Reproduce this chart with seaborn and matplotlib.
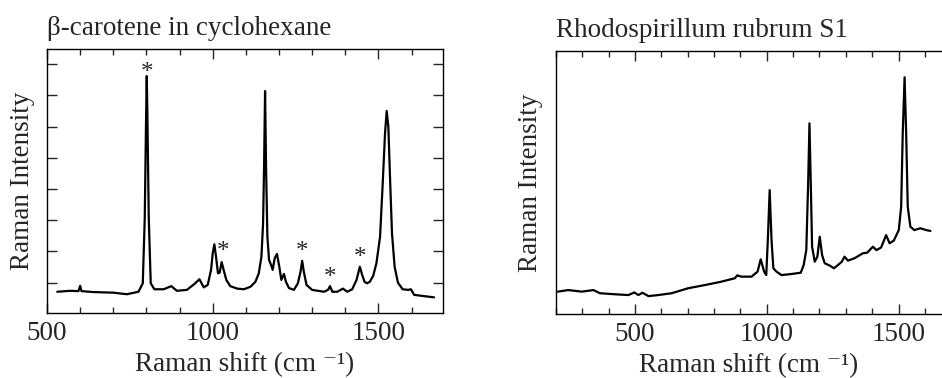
import matplotlib
matplotlib.use("Agg")
import matplotlib.pyplot as plt
import seaborn as sns
from matplotlib.ticker import MultipleLocator

# beta-carotene in cyclohexane (y in tick units)
bc_shift = [531, 570, 595, 600, 604, 640, 701, 741, 776, 789, 795, 799, 801, 803, 807, 813,
            824, 852, 875, 892, 922, 945, 960, 973, 985, 995, 1000, 1005, 1010, 1016, 1021,
            1027, 1033, 1041, 1053, 1074, 1094, 1114, 1129, 1139, 1147, 1152, 1155, 1158,
            1161, 1165, 1170, 1176, 1181, 1187, 1194, 1201, 1207, 1215, 1221, 1230, 1245,
            1257, 1265, 1270, 1275, 1283, 1300, 1336, 1348, 1354, 1361, 1376, 1393, 1406,
            1421, 1434, 1444, 1451, 1458, 1466, 1474, 1484, 1494, 1505, 1513, 1520, 1525,
            1530, 1535, 1541, 1549, 1559, 1573, 1590, 1598, 1608, 1638, 1668]
bc_int = [-0.29, -0.26, -0.27, -0.10, -0.27, -0.30, -0.32, -0.37, -0.29, -0.02, 2.1, 5.3, 6.62,
          5.3, 2.1, -0.02, -0.21, -0.21, -0.11, -0.26, -0.23, -0.04, 0.11, -0.15, -0.07, 0.41,
          0.94, 1.23, 0.83, 0.30, 0.32, 0.66, 0.41, 0.09, -0.11, -0.19, -0.21, -0.13, 0.03,
          0.30, 0.83, 1.9, 3.71, 6.14, 3.71, 1.47, 0.73, 0.57, 0.41, 0.78, 0.92, 0.51, 0.09,
          0.28, 0.03, -0.17, -0.23, -0.02, 0.35, 0.70, 0.35, -0.07, -0.23, -0.29, -0.23,
          -0.11, -0.29, -0.29, -0.19, -0.29, -0.21, 0.09, 0.51, 0.25, 0.03, -0.02, 0.03, 0.21,
          0.62, 1.47, 3.18, 4.78, 5.50, 5.0, 3.39, 1.58, 0.51, 0.0, -0.21, -0.23, -0.21,
          -0.39, -0.43, -0.47]

# solvent bands marked with an asterisk
star_shift = [801, 1031, 1269, 1354, 1444]
star_int = [6.72, 0.99, 0.99, 0.14, 0.78]

# Rhodospirillum rubrum S1 (y in percent of axis height)
rr_shift = [207, 247, 298, 342, 367, 424, 475, 497, 513, 528, 551, 588, 639, 702, 765, 828,
            879, 888, 904, 942, 965, 977, 990, 998, 1004, 1011, 1018, 1025, 1037, 1056, 1093,
            1129, 1140, 1150, 1157, 1162, 1167, 1172, 1182, 1192, 1201, 1210, 1220, 1239,
            1255, 1270, 1285, 1295, 1308, 1333, 1365, 1381, 1403, 1416, 1434, 1453, 1466,
            1482, 1501, 1510, 1516, 1523, 1529, 1535, 1545, 1560, 1583, 1605, 1621]
rr_int = [8.5, 9.1, 8.5, 9.1, 7.9, 7.5, 7.2, 8.2, 7.2, 8.1, 6.8, 7.2, 7.9, 9.8, 11.0, 12.3,
          13.6, 14.7, 14.2, 14.2, 16.1, 20.8, 16.1, 14.8, 28.1, 47.1, 28.1, 17.4, 16.1, 14.8,
          15.2, 15.7, 18.6, 24.3, 49.6, 72.5, 49.6, 25.6, 19.9, 21.8, 29.4, 22.4, 19.3, 18.4,
          17.4, 18.6, 19.9, 21.8, 20.3, 21.2, 23.1, 23.3, 25.6, 24.3, 25.3, 30.0, 26.9, 27.9,
          31.9, 40.8, 68.7, 90.0, 68.7, 40.8, 33.2, 31.9, 32.6, 31.9, 31.6]

sns.set_theme(style="ticks")
plt.rcParams["font.family"] = ["Liberation Serif", "DejaVu Serif"]

fig = plt.figure(figsize=(9.42, 3.78), dpi=100)
ax1 = fig.add_axes([0.0499, 0.172, 0.4204, 0.698])
ax2 = fig.add_axes([0.5902, 0.1693, 0.4098, 0.6958])

sns.lineplot(x=bc_shift, y=bc_int, ax=ax1, color="black", lw=1.6)
sns.lineplot(x=rr_shift, y=rr_int, ax=ax2, color="black", lw=1.6)

for xs, ys in zip(star_shift, star_int):
    ax1.text(xs, ys, "*", ha="center", va="center", fontsize=18)

ax1.set_xlim(500, 1695)
ax1.set_ylim(-0.97, 7.48)
ax2.set_xlim(200, 1665)
ax2.set_ylim(0, 100)

for ax in (ax1, ax2):
    ax.xaxis.set_major_locator(MultipleLocator(500))
    ax.xaxis.set_minor_locator(MultipleLocator(100))
    ax.tick_params(axis="x", which="both", direction="in", top=True, labelsize=19.5, pad=6)
    ax.tick_params(axis="x", which="major", length=7, width=1)
    ax.tick_params(axis="x", which="minor", length=4, width=1)
    ax.set_xlabel("Raman shift (cm \u207b\u00b9)", fontsize=19.5, labelpad=4)
    ax.set_ylabel("Raman Intensity", fontsize=19.5, labelpad=9)
    for s in ax.spines.values():
        s.set_linewidth(1.0)
        s.set_color("black")

ax1.yaxis.set_major_locator(MultipleLocator(1))
ax1.tick_params(axis="y", direction="in", right=True, length=7, width=1, labelleft=False)
ax2.set_yticks([])
ax2.spines["right"].set_visible(False)

ax1.set_title("\u03b2-carotene in cyclohexane", loc="left", fontsize=19.5, pad=10)
ax2.set_title("Rhodospirillum rubrum S1", loc="left", fontsize=19.5, pad=10)

fig.savefig("out.png", dpi=100)
